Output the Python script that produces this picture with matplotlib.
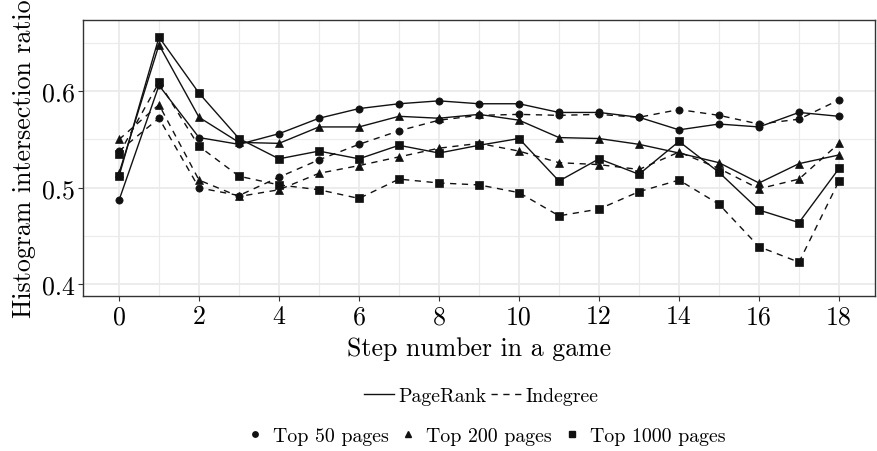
import numpy as np
import matplotlib
matplotlib.use("Agg")
import matplotlib.pyplot as plt
from matplotlib.lines import Line2D
from matplotlib.ticker import MultipleLocator

plt.rcParams['font.family'] = ['cmr10', 'DejaVu Serif']
plt.rcParams['axes.formatter.use_mathtext'] = True
plt.rcParams['mathtext.fontset'] = 'cm'

steps = np.arange(19)

# histogram intersection ratio per step, PageRank ordering
pr_top50 = [0.487, 0.606, 0.552, 0.545, 0.556, 0.572, 0.582, 0.587, 0.590, 0.587,
            0.587, 0.578, 0.578, 0.573, 0.560, 0.566, 0.563, 0.578, 0.574]
pr_top200 = [0.515, 0.648, 0.573, 0.547, 0.546, 0.563, 0.563, 0.574, 0.572, 0.576,
             0.570, 0.552, 0.551, 0.545, 0.536, 0.526, 0.505, 0.525, 0.534]
pr_top1000 = [0.512, 0.656, 0.598, 0.551, 0.530, 0.538, 0.530, 0.544, 0.536, 0.544,
              0.551, 0.507, 0.530, 0.514, 0.548, 0.516, 0.477, 0.464, 0.520]

# same, Indegree ordering
in_top50 = [0.538, 0.572, 0.500, 0.492, 0.511, 0.529, 0.545, 0.559, 0.570, 0.575,
            0.576, 0.575, 0.576, 0.573, 0.581, 0.575, 0.566, 0.571, 0.591]
in_top200 = [0.550, 0.586, 0.508, 0.491, 0.498, 0.515, 0.523, 0.532, 0.541, 0.546,
             0.538, 0.526, 0.524, 0.519, 0.537, 0.520, 0.499, 0.509, 0.546]
in_top1000 = [0.535, 0.609, 0.543, 0.512, 0.503, 0.498, 0.489, 0.509, 0.505, 0.503,
              0.495, 0.471, 0.478, 0.496, 0.508, 0.483, 0.439, 0.423, 0.507]

measures = ['PageRank', 'Indegree']
sizes = ['Top 50 pages', 'Top 200 pages', 'Top 1000 pages']
xticks = [0, 2, 4, 6, 8, 10, 12, 14, 16, 18]
yticks = [0.4, 0.5, 0.6]

series = {
    ('PageRank', 'Top 50 pages'): pr_top50,
    ('PageRank', 'Top 200 pages'): pr_top200,
    ('PageRank', 'Top 1000 pages'): pr_top1000,
    ('Indegree', 'Top 50 pages'): in_top50,
    ('Indegree', 'Top 200 pages'): in_top200,
    ('Indegree', 'Top 1000 pages'): in_top1000,
}

styles = {'PageRank': '-', 'Indegree': (0, (4.5, 4))}
markers = {'Top 50 pages': ('o', 5.2), 'Top 200 pages': ('^', 6.2), 'Top 1000 pages': ('s', 5.8)}
ink = '#111111'

fig = plt.figure(figsize=(8.78, 4.52), dpi=100)
ax = fig.add_axes([83 / 878, 1 - 297.3 / 452, 792 / 878, 276.6 / 452])

for (m, s), vals in series.items():
    mk, ms = markers[s]
    ax.plot(steps, vals, linestyle=styles[m], color=ink, linewidth=1.0,
            marker=mk, markersize=ms, markerfacecolor=ink, markeredgecolor=ink,
            markeredgewidth=0.5, zorder=3)

ax.set_xlim(-0.9, 18.9)
ax.set_ylim(0.3877, 0.6740)
ax.set_xticks(xticks)
ax.set_xticklabels([str(t) for t in xticks])
ax.set_yticks(yticks)
ax.set_yticklabels(['%.1f' % t for t in yticks])
ax.xaxis.set_minor_locator(MultipleLocator(1))
ax.yaxis.set_minor_locator(MultipleLocator(0.05))
ax.grid(which='major', color='#ebebeb', linewidth=1.3, zorder=0)
ax.grid(which='minor', color='#ebebeb', linewidth=0.8, zorder=0)
ax.set_axisbelow(True)
ax.tick_params(which='major', length=3.5, width=0.8, color='#333333',
               labelsize=18.6, labelcolor='black', pad=2.5)
ax.tick_params(which='minor', length=0)
for sp in ax.spines.values():
    sp.set_color('#333333')
    sp.set_linewidth(1.0)

ax.set_xlabel('Step number in a game', fontsize=18.6, labelpad=6)
ax.set_ylabel('Histogram intersection ratio', fontsize=18.6, labelpad=4)

# linetype legend
line_handles = [Line2D([], [], color=ink, linestyle=styles[m], linewidth=1.0) for m in measures]
leg1 = fig.legend(line_handles, measures, loc='center', bbox_to_anchor=(481 / 878, 1 - 397 / 452),
                  ncol=2, frameon=False, fontsize=14.3, handlelength=1.55,
                  handletextpad=0.2, columnspacing=0.2, borderpad=0)
# shape legend
shape_handles = [Line2D([], [], color=ink, linestyle='none', marker=markers[s][0],
                        markersize=markers[s][1] * 0.75) for s in sizes]
leg2 = fig.legend(shape_handles, sizes, loc='center', bbox_to_anchor=(486 / 878, 1 - 437 / 452),
                  ncol=3, frameon=False, fontsize=14.3, handlelength=0.8,
                  handletextpad=0.5, columnspacing=0.6, borderpad=0)

fig.savefig('out.png', dpi=100)
